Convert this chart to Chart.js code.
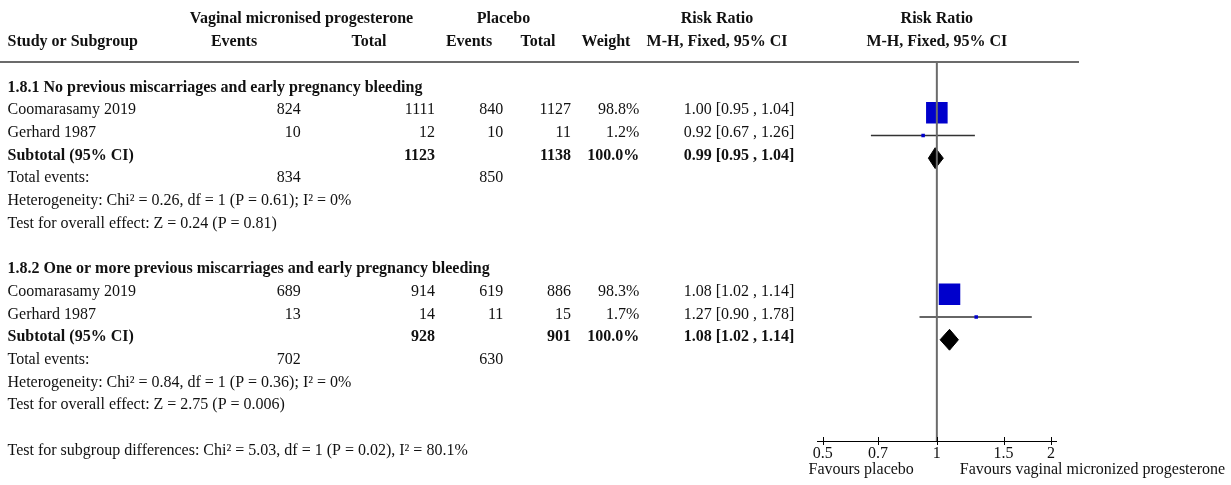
<!DOCTYPE html>
<html>
<head>
<meta charset="utf-8">
<script src="https://cdn.jsdelivr.net/npm/chart.js@4.4.1/dist/chart.umd.min.js"></script>
<style>
  body { margin: 0; background: #fff; }
  #wrap { width: 1231px; height: 485px; }
</style>
</head>
<body>
<div id="wrap"><canvas id="forest" width="1231" height="485"></canvas></div>
<script>
// study level data
const subgroupTitles = [
  '1.8.1 No previous miscarriages and early pregnancy bleeding',
  '1.8.2 One or more previous miscarriages and early pregnancy bleeding'
];
const studyNames = ['Coomarasamy 2019', 'Gerhard 1987', 'Coomarasamy 2019', 'Gerhard 1987'];
const studyGroup = [0, 0, 1, 1];
const progEvents = [824, 10, 689, 13];
const progTotal = [1111, 12, 914, 14];
const placeboEvents = [840, 10, 619, 11];
const placeboTotal = [1127, 11, 886, 15];
const studyWeight = [98.8, 1.2, 98.3, 1.7];
const studyRR = [1.00, 0.92, 1.08, 1.27];
const studyLow = [0.95, 0.67, 1.02, 0.90];
const studyHigh = [1.04, 1.26, 1.14, 1.78];

// subtotals
const subProgTotal = [1123, 928];
const subPlaceboTotal = [1138, 901];
const subProgEvents = [834, 702];
const subPlaceboEvents = [850, 630];
const subWeight = [100.0, 100.0];
const subRR = [0.99, 1.08];
const subLow = [0.95, 1.02];
const subHigh = [1.04, 1.14];
const heterogeneity = [
  'Heterogeneity: Chi² = 0.26, df = 1 (P = 0.61); I² = 0%',
  'Heterogeneity: Chi² = 0.84, df = 1 (P = 0.36); I² = 0%'
];
const overallEffect = [
  'Test for overall effect: Z = 0.24 (P = 0.81)',
  'Test for overall effect: Z = 2.75 (P = 0.006)'
];
const subgroupTest = 'Test for subgroup differences: Chi² = 5.03, df = 1 (P = 0.02), I² = 80.1%';

const axisTicks = [0.5, 0.7, 1, 1.5, 2];
const favoursLeft = 'Favours placebo';
const favoursRight = 'Favours vaginal micronized progesterone';

// layout
const FONT = '"Liberation Serif", "Times New Roman", serif';
const INK = '#111';
const groupStart = [0, 8];
const subgroupTestRow = 16;
const markOff = 0.17;
const diamondHalf = 0.46;

const studyRow = studyNames.map((_, i) => {
  let k = 0;
  for (let j = 0; j < i; j++) if (studyGroup[j] === studyGroup[i]) k++;
  return groupStart[studyGroup[i]] + 1 + k;
});
const nInGroup = g => studyGroup.filter(v => v === g).length;
const subRow = subgroupTitles.map((_, g) => groupStart[g] + 1 + nInGroup(g));

const ciText = (rr, lo, hi) => rr.toFixed(2) + ' [' + lo.toFixed(2) + ' , ' + hi.toFixed(2) + ']';
const boxSide = w => Math.max(3.5, 21.7 * Math.sqrt(w / 100));

// lower "order" is drawn on top
const datasets = [];
studyNames.forEach((_, i) => {
  datasets.push({
    order: 3,
    data: [{x: studyLow[i], y: studyRow[i] + markOff}, {x: studyHigh[i], y: studyRow[i] + markOff}],
    showLine: true, borderColor: '#333', borderWidth: 1.4, pointRadius: 0
  });
});
datasets.push({
  order: 2,
  data: studyRR.map((v, i) => ({x: v, y: studyRow[i] + markOff})),
  pointStyle: 'rect',
  pointRadius: studyWeight.map(w => boxSide(w) / Math.SQRT2),
  backgroundColor: '#0000cc', borderWidth: 0
});
subRR.forEach((v, g) => {
  const y = subRow[g] + markOff;
  datasets.push({
    order: 1,
    data: [
      {x: subLow[g], y: y}, {x: v, y: y - diamondHalf},
      {x: subHigh[g], y: y}, {x: v, y: y + diamondHalf}, {x: subLow[g], y: y}
    ],
    showLine: true, fill: 'shape', tension: 0,
    backgroundColor: '#000', borderColor: '#000', borderWidth: 1, pointRadius: 0
  });
});

function txt(ctx, s, x, y, align, bold) {
  ctx.font = (bold ? 'bold ' : '') + '16px ' + FONT;
  ctx.textAlign = align;
  ctx.textBaseline = 'alphabetic';
  ctx.fillStyle = INK;
  ctx.fillText(s, x, y + 5.4);
}

const forestText = {
  id: 'forestText',
  afterDatasetsDraw(chart) {
    const {ctx, chartArea} = chart;
    const x1 = chart.scales.x.getPixelForValue(1);
    ctx.save();
    ctx.strokeStyle = '#6b6b6b';
    ctx.lineWidth = 2;
    ctx.beginPath();
    ctx.moveTo(x1, chartArea.top);
    ctx.lineTo(x1, chartArea.bottom);
    ctx.stroke();
    ctx.restore();
  },
  afterDraw(chart) {
    const {ctx, chartArea} = chart;
    const xs = chart.scales.x, ys = chart.scales.y;
    const rowY = r => ys.getPixelForValue(r);
    const xc = xs.getPixelForValue(1);
    ctx.save();

    // header rule
    ctx.strokeStyle = '#6b6b6b';
    ctx.lineWidth = 2;
    ctx.beginPath();
    ctx.moveTo(0, chartArea.top);
    ctx.lineTo(1079, chartArea.top);
    ctx.stroke();

    // headers
    let y = rowY(-3);
    txt(ctx, 'Vaginal micronised progesterone', 301.5, y, 'center', true);
    txt(ctx, 'Placebo', 503.5, y, 'center', true);
    txt(ctx, 'Risk Ratio', 717, y, 'center', true);
    txt(ctx, 'Risk Ratio', xc, y, 'center', true);
    y = rowY(-2);
    txt(ctx, 'Study or Subgroup', 7.5, y, 'left', true);
    txt(ctx, 'Events', 234, y, 'center', true);
    txt(ctx, 'Total', 369, y, 'center', true);
    txt(ctx, 'Events', 469, y, 'center', true);
    txt(ctx, 'Total', 538, y, 'center', true);
    txt(ctx, 'Weight', 606, y, 'center', true);
    txt(ctx, 'M-H, Fixed, 95% CI', 717, y, 'center', true);
    txt(ctx, 'M-H, Fixed, 95% CI', xc, y, 'center', true);

    // studies
    studyNames.forEach((n, i) => {
      const yy = rowY(studyRow[i]);
      txt(ctx, n, 7.5, yy, 'left');
      txt(ctx, String(progEvents[i]), 300.7, yy, 'right');
      txt(ctx, String(progTotal[i]), 435, yy, 'right');
      txt(ctx, String(placeboEvents[i]), 503.3, yy, 'right');
      txt(ctx, String(placeboTotal[i]), 571, yy, 'right');
      txt(ctx, studyWeight[i].toFixed(1) + '%', 639.3, yy, 'right');
      txt(ctx, ciText(studyRR[i], studyLow[i], studyHigh[i]), 794.3, yy, 'right');
    });

    // subgroups
    subgroupTitles.forEach((t, g) => {
      txt(ctx, t, 7.5, rowY(groupStart[g]), 'left', true);
      const r = subRow[g];
      let yy = rowY(r);
      txt(ctx, 'Subtotal (95% CI)', 7.5, yy, 'left', true);
      txt(ctx, String(subProgTotal[g]), 435, yy, 'right', true);
      txt(ctx, String(subPlaceboTotal[g]), 571, yy, 'right', true);
      txt(ctx, subWeight[g].toFixed(1) + '%', 639.3, yy, 'right', true);
      txt(ctx, ciText(subRR[g], subLow[g], subHigh[g]), 794.3, yy, 'right', true);
      yy = rowY(r + 1);
      txt(ctx, 'Total events:', 7.5, yy, 'left');
      txt(ctx, String(subProgEvents[g]), 300.7, yy, 'right');
      txt(ctx, String(subPlaceboEvents[g]), 503.3, yy, 'right');
      txt(ctx, heterogeneity[g], 7.5, rowY(r + 2), 'left');
      txt(ctx, overallEffect[g], 7.5, rowY(r + 3), 'left');
    });
    txt(ctx, subgroupTest, 7.5, rowY(subgroupTestRow), 'left');

    // tick marks crossing the axis
    ctx.strokeStyle = '#000';
    ctx.lineWidth = 1;
    axisTicks.forEach(v => {
      const px = Math.round(xs.getPixelForValue(v)) + 0.5;
      ctx.beginPath();
      ctx.moveTo(px, chartArea.bottom - 4);
      ctx.lineTo(px, chartArea.bottom + 4);
      ctx.stroke();
    });

    // favours labels (baseline about 33px under the axis)
    const fy = chartArea.bottom + 33 - 5.4;
    txt(ctx, favoursLeft, xc - 23, fy, 'right');
    txt(ctx, favoursRight, xc + 23, fy, 'left');
    ctx.restore();
  }
};

new Chart(document.getElementById('forest'), {
  type: 'scatter',
  data: {datasets: datasets},
  options: {
    responsive: false,
    devicePixelRatio: 1,
    animation: false,
    events: [],
    layout: {padding: {left: 817.7, right: 175, top: 62, bottom: 0}},
    plugins: {legend: {display: false}, tooltip: {enabled: false}},
    scales: {
      x: {
        type: 'logarithmic',
        min: 0.485,
        max: 2.062,
        afterBuildTicks: s => { s.ticks = axisTicks.map(v => ({value: v})); },
        afterFit: s => { s.height = 44; },
        grid: {display: false, drawTicks: false},
        border: {display: true, color: '#000', width: 1},
        ticks: {
          autoSkip: false, maxRotation: 0, padding: 3, color: INK,
          font: {family: FONT, size: 16},
          callback: v => String(v)
        }
      },
      y: {
        type: 'linear',
        reverse: true,
        min: -1.066,
        max: 15.63,
        display: false
      }
    }
  },
  plugins: [forestText]
});
</script>
</body>
</html>
